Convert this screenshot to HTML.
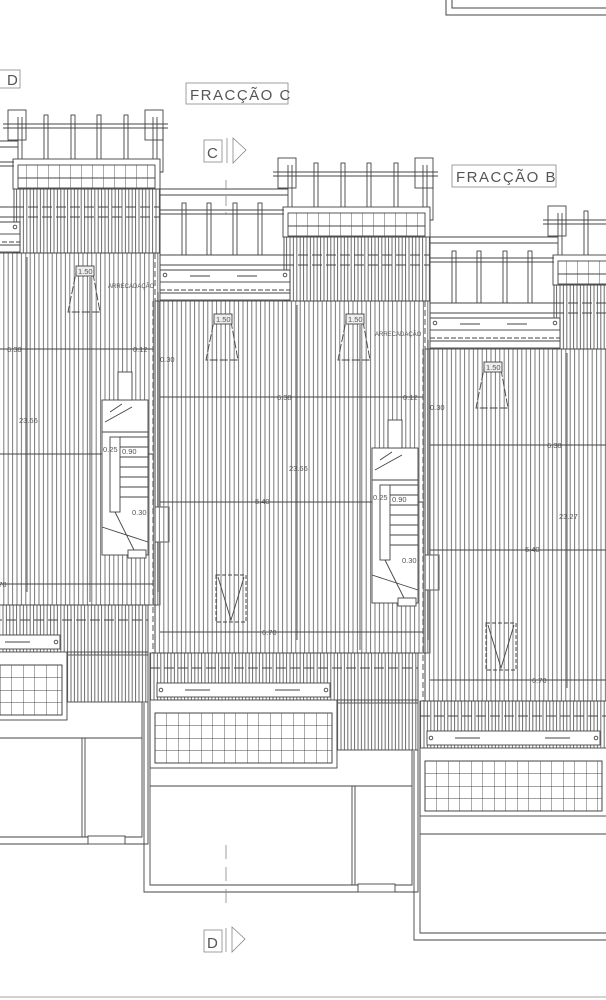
<!DOCTYPE html>
<html><head><meta charset="utf-8"><style>
html,body{margin:0;padding:0;background:#fff;width:606px;height:1000px;overflow:hidden}
svg{display:block}
text{font-family:"Liberation Sans",sans-serif;fill:#555}
</style></head><body>
<svg width="606" height="1000" viewBox="0 0 606 1000" xmlns="http://www.w3.org/2000/svg">
<defs>
<pattern id="h" patternUnits="userSpaceOnUse" width="4.4" height="10"><line x1="1" y1="0" x2="1" y2="10" stroke="#7a7a7a" stroke-width="1"/></pattern>
<pattern id="hd" patternUnits="userSpaceOnUse" width="3.4" height="10"><line x1="1" y1="0" x2="1" y2="10" stroke="#6a6a6a" stroke-width="1"/></pattern>
<pattern id="g" patternUnits="userSpaceOnUse" width="11.5" height="12.5" x="155" y="713"><path d="M0 0V12.5M0 0H11.5" stroke="#444" stroke-width="0.9" fill="none"/></pattern>
<pattern id="g2" patternUnits="userSpaceOnUse" width="11" height="14" x="285" y="208"><path d="M0 0V14" stroke="#444" stroke-width="0.9" fill="none"/></pattern>
<g id="u" stroke="#444" stroke-width="0.9" fill="none">
  <rect x="278" y="158" width="18" height="30" fill="#fff"/>
  <rect x="415" y="158" width="18" height="30" fill="#fff"/>
  <line x1="273" y1="172" x2="438" y2="172"/><line x1="273" y1="176" x2="438" y2="176"/>
  <line x1="288" y1="165" x2="288" y2="208"/><line x1="292" y1="165" x2="292" y2="208"/>
  <line x1="423" y1="165" x2="423" y2="208"/><line x1="427" y1="165" x2="427" y2="208"/>
  <rect x="314" y="163" width="4" height="45"/><rect x="341" y="163" width="4" height="45"/><rect x="367" y="163" width="4" height="45"/><rect x="394" y="163" width="4" height="45"/>
  <polyline points="433,175 433,220 428,220"/>
  <rect x="283" y="207" width="147" height="30" fill="#fff"/>
  <rect x="288" y="213" width="137" height="23" fill="url(#g2)"/>
  <line x1="288" y1="226" x2="425" y2="226"/>
  <rect x="284" y="237" width="146" height="64" fill="url(#hd)"/>
  <line x1="284" y1="255" x2="430" y2="255" stroke-dasharray="10,4"/>
  <line x1="284" y1="265" x2="430" y2="265" stroke-dasharray="10,4"/>
  <line x1="160" y1="189" x2="288" y2="189"/><line x1="160" y1="195" x2="288" y2="195"/>
  <line x1="160" y1="210" x2="284" y2="210"/><line x1="160" y1="214" x2="284" y2="214"/>
  <line x1="160" y1="255" x2="284" y2="255"/><line x1="160" y1="265" x2="290" y2="265"/>
  <line x1="160" y1="189" x2="160" y2="300"/>
  <rect x="182" y="203" width="4" height="52"/><rect x="207" y="203" width="4" height="52"/><rect x="233" y="203" width="4" height="52"/><rect x="258" y="203" width="4" height="52"/>
  <rect x="160" y="270" width="130" height="30" fill="#fff"/>
  <rect x="160" y="270" width="130" height="12"/>
  <circle cx="165" cy="275" r="1.8"/><circle cx="285" cy="275" r="1.8"/>
  <line x1="190" y1="276" x2="210" y2="276"/><line x1="237" y1="276" x2="257" y2="276"/>
  <line x1="160" y1="290" x2="290" y2="290" stroke-dasharray="5,2"/>
  <line x1="160" y1="293" x2="290" y2="293"/>
  <rect x="155" y="301" width="275" height="352" fill="url(#h)"/>
  <line x1="155" y1="301" x2="155" y2="653"/>
  <line x1="425" y1="301" x2="425" y2="640" stroke-dasharray="6,3"/>
  <line x1="153" y1="301" x2="153" y2="653" stroke-dasharray="6,3"/>
  <line x1="160" y1="397" x2="423" y2="397"/>
  <line x1="160" y1="502" x2="423" y2="502"/>
  <line x1="160" y1="632" x2="423" y2="632"/>
  <line x1="428" y1="340" x2="428" y2="640"/>
  <line x1="360" y1="325" x2="360" y2="650"/>
  <line x1="297" y1="305" x2="297" y2="640"/>
  <polygon points="215,316 230,316 238,360 206,360" stroke-dasharray="8,2"/>
  <rect x="214" y="314" width="18" height="10" fill="#eee"/>
  <polygon points="347,316 362,316 370,360 338,360" stroke-dasharray="8,2"/>
  <rect x="346" y="314" width="18" height="10" fill="#eee"/>
  <rect x="216" y="575" width="30" height="47" stroke-dasharray="4,2"/>
  <polyline points="218,577 231,620 244,577"/>
  <rect x="372" y="448" width="46" height="155" fill="#fff"/>
  <rect x="388" y="420" width="14" height="28" fill="#fff"/>
  <rect x="425" y="555" width="14" height="35" fill="#fff"/>
  <rect x="380" y="485" width="10" height="75"/>
  <path d="M390 485H418M390 495H418M390 505H418M390 515H418M390 525H418M390 535H418M390 545H418M372 480H418M380 460L392 452M375 470L402 455M372 575L418 590M385 560L405 600"/>
  <rect x="398" y="598" width="18" height="8" fill="#fff"/>
  <rect x="150" y="653" width="268" height="50" fill="url(#hd)"/>
  <line x1="150" y1="668" x2="418" y2="668" stroke-dasharray="10,4"/>
  <rect x="157" y="683" width="173" height="14" fill="#fff"/>
  <circle cx="161" cy="690" r="1.8"/><circle cx="326" cy="690" r="1.8"/>
  <line x1="185" y1="690" x2="210" y2="690"/><line x1="275" y1="690" x2="300" y2="690"/>
  <rect x="150" y="700" width="187" height="68" fill="#fff"/>
  <rect x="155" y="713" width="177" height="50" fill="url(#g)"/>
  <rect x="155" y="713" width="177" height="50"/>
  <rect x="337" y="700" width="81" height="50" fill="url(#hd)"/>
  <polyline points="150,703 150,786 412,786"/>
  <polyline points="144,703 144,892 358,892"/>
  <polyline points="150,786 150,885 358,885"/>
  <polyline points="395,885 412,885 412,750"/>
  <polyline points="395,892 418,892 418,750"/>
  <line x1="352" y1="786" x2="352" y2="885"/><line x1="355" y1="786" x2="355" y2="885"/>
  <rect x="358" y="884" width="37" height="8"/>
</g>
</defs>

<rect x="446" y="-5" width="170" height="20" fill="none" stroke="#444"/>
<rect x="452" y="-5" width="160" height="13" fill="none" stroke="#444"/>

<use href="#u" transform="translate(-270,-48)"/>
<use href="#u"/>
<use href="#u" transform="translate(270,48)"/>

<g fill="none" stroke="#888" stroke-width="0.8">
  <rect x="-2" y="70" width="22" height="18"/>
  <rect x="186" y="83" width="102" height="21"/>
  <rect x="204" y="140" width="18" height="22"/>
  <polygon points="233,138 246,150 233,163"/>
  <line x1="227" y1="138" x2="227" y2="163"/>
  <rect x="452" y="165" width="104" height="22"/>
  <rect x="204" y="930" width="18" height="22"/>
  <polygon points="232,927 245,939 232,952"/>
  <line x1="226" y1="928" x2="226" y2="952"/>
  <line x1="226" y1="180" x2="226" y2="215" stroke-dasharray="10,6"/>
  <line x1="226" y1="845" x2="226" y2="910" stroke-dasharray="14,8"/>
  <line x1="0" y1="997" x2="606" y2="997"/>
</g>
<g font-size="15" fill="#666">
  <text x="7" y="85">D</text>
  <text x="190" y="100" letter-spacing="1.5">FRACÇÃO C</text>
  <text x="207" y="158">C</text>
  <text x="456" y="182" letter-spacing="1.5">FRACÇÃO B</text>
  <text x="207" y="948">D</text>
</g>
<g font-size="7.5">
  <g transform="translate(-270,-48)">
    <text x="277" y="400">6.38</text><text x="289" y="471">23.66</text><text x="255" y="504">5.40</text><text x="262" y="635">6.70</text>
    <text x="378" y="336" font-size="6">ARRECADAÇÃO</text><text x="216" y="322">1.50</text><text x="348" y="322">1.50</text>
    <text x="403" y="400">0.12</text><text x="430" y="410">0.30</text><text x="373" y="500">0.25</text><text x="392" y="502">0.90</text><text x="402" y="563">0.30</text>
  </g>
  <g>
    <text x="277" y="400">6.38</text><text x="289" y="471">23.66</text><text x="255" y="504">5.40</text><text x="262" y="635">6.70</text>
    <text x="375" y="336" font-size="6">ARRECADAÇÃO</text><text x="216" y="322">1.50</text><text x="348" y="322">1.50</text>
    <text x="403" y="400">0.12</text><text x="430" y="410">0.30</text><text x="373" y="500">0.25</text><text x="392" y="502">0.90</text><text x="402" y="563">0.30</text>
  </g>
  <g transform="translate(270,48)">
    <text x="277" y="400">6.38</text><text x="289" y="471">23.27</text><text x="255" y="504">5.40</text><text x="262" y="635">6.70</text>
    <text x="216" y="322">1.50</text>
  </g>
</g>
</svg>
</body></html>
